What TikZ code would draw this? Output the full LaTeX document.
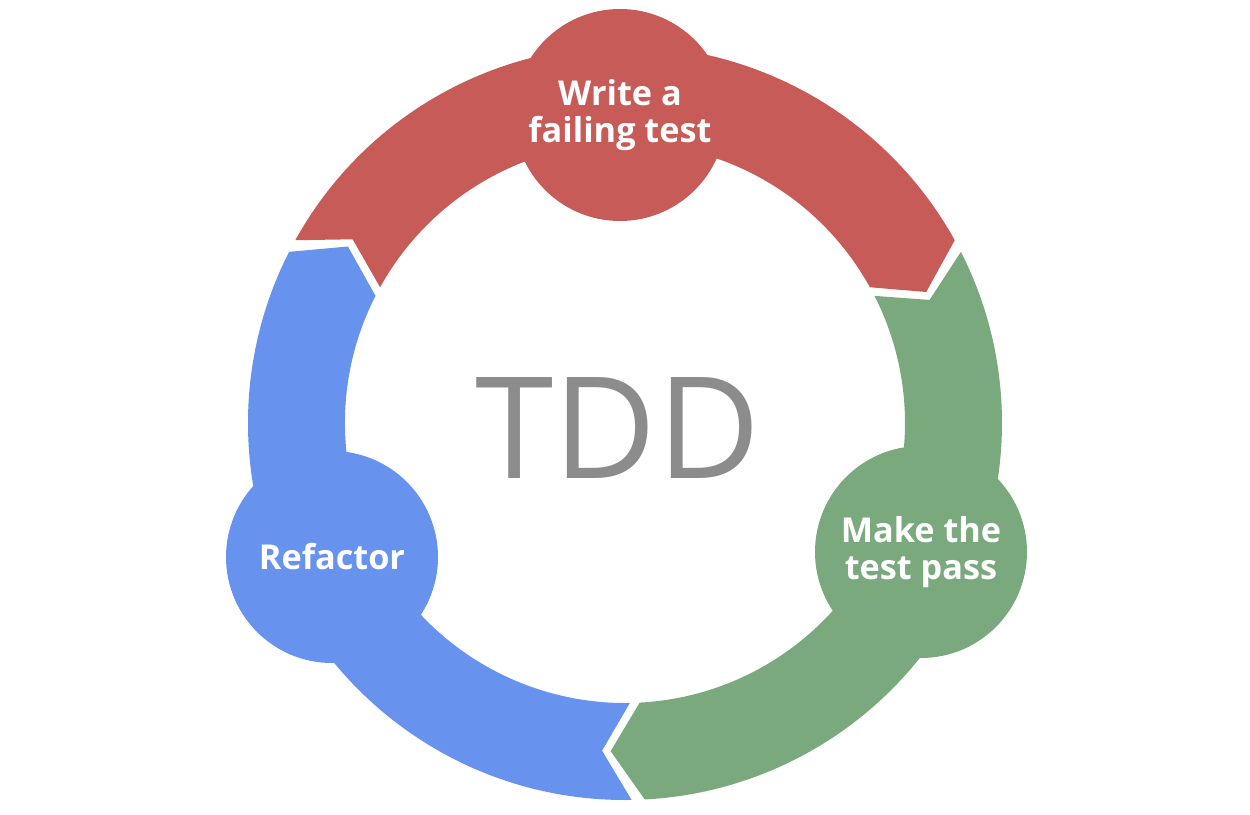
\documentclass[tikz,border=0pt]{standalone}
\usepackage{fontspec}
\setmainfont{Open Sans}
\usepackage{tikz}

\definecolor{tddred}{RGB}{198,91,87}
\definecolor{tddgreen}{RGB}{123,169,126}
\definecolor{tddblue}{RGB}{103,146,238}
\definecolor{tddgray}{RGB}{140,140,140}

\begin{document}
\begin{tikzpicture}[
    every node/.style={font=\fontsize{19.5}{21}\selectfont\bfseries, text=white},
    stage/.style={circle, minimum size=4.24cm, inner sep=0pt, align=center},
    title/.style={font=\fontsize{80.5}{80}\selectfont, text=tddgray}
]
\useasboundingbox (-12.5,-7.82) rectangle (12.5,8.46);

% Ring segments
\fill[tddred] (151:7.54) arc[start angle=151, end angle=29, radius=7.54]
    -- (23.5:6.57) -- (29:5.6) arc[start angle=29, end angle=151, radius=5.6]
    -- (146:6.57) -- cycle;
\fill[tddgreen] (27:7.54) arc[start angle=27, end angle=-87, radius=7.54]
    -- (-92.5:6.57) -- (-87:5.6) arc[start angle=-87, end angle=27, radius=5.6]
    -- (22:6.57) -- cycle;
\fill[tddblue] (-89:7.54) arc[start angle=-89, end angle=-207, radius=7.54]
    -- (-212.5:6.57) -- (-207:5.6) arc[start angle=-207, end angle=-89, radius=5.6]
    -- (-94:6.57) -- cycle;

% Stages
\node[stage, fill=tddred]   (write)    at (-0.10,6.16) {Write a\\failing test};
\node[stage, fill=tddgreen] (pass)     at (5.92,-2.58) {Make the\\test pass};
\node[stage, fill=tddblue]  (refactor) at (-5.86,-2.68) {Refactor};

% Centre
\node[title, anchor=base] (tdd) at (-0.14,-1.10) {TDD};

\end{tikzpicture}
\end{document}
